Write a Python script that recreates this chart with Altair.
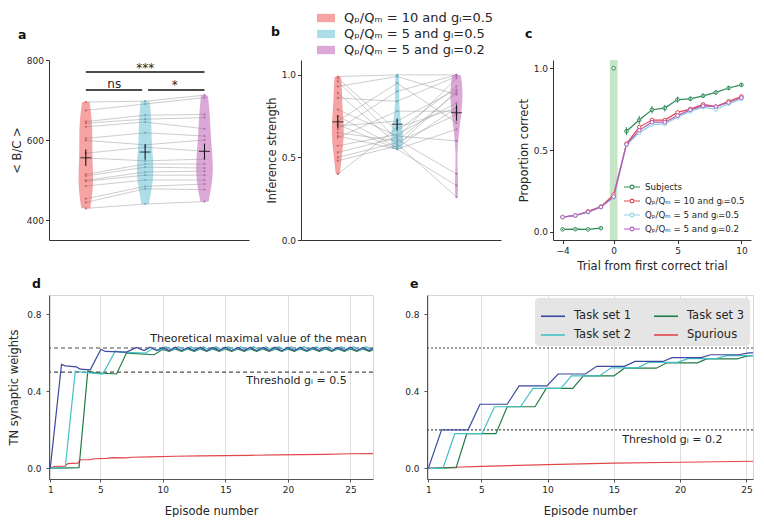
import altair as alt
import pandas as pd

FONT = "DejaVu Sans"
INK = "#262626"
SPINE = "#333333"

# ---------------- conditions (panels a, b, legend) ----------------
COND = ["Qₚ/Qₘ = 10 and gᵢ=0.5", "Qₚ/Qₘ = 5 and gᵢ=0.5", "Qₚ/Qₘ = 5 and gᵢ=0.2"]
VIOLIN_FILL = ["#f5a3a3", "#acdeea", "#dca8d7"]
DOT_COLOR = ["#d35a5a", "#62abc2", "#b368ad"]

# ---------------- panel a : <B/C> per subject ----------------
BC_Q10_G05 = [695, 674, 646, 642, 633, 604, 599, 567, 555, 514, 510, 499, 497, 485, 453, 444, 429]
BC_Q5_G05 = [697, 690, 662, 652, 645, 618, 588, 582, 548, 540, 532, 520, 512, 500, 484, 478, 440]
BC_Q5_G02 = [712, 706, 664, 656, 628, 610, 600, 572, 552, 540, 530, 522, 512, 500, 490, 476, 446]
SIG_BARS = [(0.0, 2.0, 770), (0.0, 0.95, 725), (1.05, 2.0, 725)]
SIG_LABELS = [("***", 1.0, 771), ("ns", 0.48, 731), ("*", 1.5, 727)]

# ---------------- panel b : inference strength per subject ----------------
INF_Q10_G05 = [0.99, 0.98, 0.96, 0.93, 0.89, 0.86, 0.79, 0.75, 0.72, 0.70,
               0.69, 0.67, 0.65, 0.63, 0.62, 0.57, 0.53, 0.50, 0.48, 0.40]
INF_Q5_G05 = [1.00, 0.66, 0.61, 0.99, 0.58, 0.84, 0.63, 0.56, 0.95, 0.55,
              0.72, 0.90, 0.60, 0.55, 0.78, 0.64, 0.62, 0.59, 0.57, 0.68]
INF_Q5_G02 = [1.00, 0.93, 0.40, 0.88, 0.26, 0.99, 0.60, 0.80, 0.71, 0.33,
              0.91, 1.00, 0.89, 0.67, 0.78, 0.83, 0.98, 0.76, 0.90, 0.80]

# ---------------- panel c : proportion correct ----------------
TRIALS = [-4, -3, -2, -1, 0, 1, 2, 3, 4, 5, 6, 7, 8, 9, 10]
SUBJECTS = [0.015, 0.016, 0.015, 0.022, 1.0, 0.615, 0.683, 0.746, 0.756, 0.808, 0.813, 0.831, 0.852, 0.879, 0.898]
SUBJECTS_SEM = [0.004, 0.004, 0.004, 0.005, 0.0, 0.024, 0.026, 0.022, 0.02, 0.018, 0.013, 0.014, 0.013, 0.012, 0.011]
MODEL_Q10_G05 = [0.09, 0.10, 0.125, 0.154, 0.227, 0.538, 0.64, 0.683, 0.683, 0.73, 0.75, 0.779, 0.765, 0.798, 0.827]
MODEL_Q5_G05 = [0.09, 0.10, 0.12, 0.15, 0.21, 0.53, 0.605, 0.655, 0.66, 0.70, 0.735, 0.762, 0.748, 0.783, 0.812]
MODEL_Q5_G02 = [0.09, 0.10, 0.122, 0.152, 0.215, 0.535, 0.62, 0.67, 0.67, 0.71, 0.745, 0.77, 0.765, 0.79, 0.82]
C_SERIES = ["Subjects"] + COND
C_COLORS = ["#2e8b57", "#e0474c", "#8fd1e6", "#b05cbc"]
FIRST_CORRECT_BAND = (-0.3, 0.3)

# ---------------- panel d : TN synaptic weights, g_I = 0.5 ----------------
D_TASK1 = [(1.0, 0.0), (1.9, 0.54), (2.2, 0.532), (3.1, 0.527), (3.4, 0.515), (4.2, 0.512),
           (5.05, 0.618), (5.4, 0.607), (7.1, 0.604), (7.9, 0.628),
           (8.5, 0.612), (9.0, 0.629), (9.5, 0.611), (10.0, 0.628), (10.5, 0.612), (11.0, 0.629),
           (11.5, 0.611), (12.0, 0.628), (12.5, 0.612), (13.0, 0.629), (13.5, 0.611), (14.0, 0.628),
           (14.5, 0.612), (15.0, 0.629), (15.5, 0.611), (16.0, 0.628), (16.5, 0.612), (17.0, 0.629),
           (17.5, 0.611), (18.0, 0.628), (18.5, 0.612), (19.0, 0.629), (19.5, 0.611), (20.0, 0.628),
           (20.5, 0.612), (21.0, 0.629), (21.5, 0.611), (22.0, 0.628), (22.5, 0.612), (23.0, 0.629),
           (23.5, 0.611), (24.0, 0.628), (24.5, 0.612), (25.0, 0.629), (25.5, 0.611), (26.0, 0.628),
           (26.5, 0.612), (26.8, 0.624)]
D_TASK2 = [(1.0, 0.0), (2.2, 0.005), (3.0, 0.505), (3.5, 0.5), (5.2, 0.49), (6.2, 0.61),
           (6.6, 0.603), (8.6, 0.598), (9.2, 0.622),
           (9.75, 0.613), (10.25, 0.632), (10.75, 0.613), (11.25, 0.632), (11.75, 0.613), (12.25, 0.632),
           (12.75, 0.613), (13.25, 0.632), (13.75, 0.613), (14.25, 0.632), (14.75, 0.613), (15.25, 0.632),
           (15.75, 0.613), (16.25, 0.632), (16.75, 0.613), (17.25, 0.632), (17.75, 0.613), (18.25, 0.632),
           (18.75, 0.613), (19.25, 0.632), (19.75, 0.613), (20.25, 0.632), (20.75, 0.613), (21.25, 0.632),
           (21.75, 0.613), (22.25, 0.632), (22.75, 0.613), (23.25, 0.632), (23.75, 0.613), (24.25, 0.632),
           (24.75, 0.613), (25.25, 0.632), (25.75, 0.613), (26.25, 0.632), (26.75, 0.614), (26.8, 0.615)]
D_TASK3 = [(1.0, 0.0), (3.3, 0.004), (4.0, 0.505), (4.5, 0.497), (6.3, 0.49), (7.1, 0.6),
           (7.5, 0.597), (9.3, 0.59), (10.0, 0.618),
           (10.5, 0.607), (11.0, 0.62), (11.5, 0.607), (12.0, 0.62), (12.5, 0.607), (13.0, 0.62),
           (13.5, 0.607), (14.0, 0.62), (14.5, 0.607), (15.0, 0.62), (15.5, 0.607), (16.0, 0.62),
           (16.5, 0.607), (17.0, 0.62), (17.5, 0.607), (18.0, 0.62), (18.5, 0.607), (19.0, 0.62),
           (19.5, 0.607), (20.0, 0.62), (20.5, 0.607), (21.0, 0.62), (21.5, 0.607), (22.0, 0.62),
           (22.5, 0.607), (23.0, 0.62), (23.5, 0.607), (24.0, 0.62), (24.5, 0.607), (25.0, 0.62),
           (25.5, 0.607), (26.0, 0.62), (26.5, 0.607), (26.8, 0.615)]
D_SPURIOUS = [(1.0, 0.0), (1.3, 0.01), (2.2, 0.012), (2.4, 0.025), (3.2, 0.027), (3.4, 0.045),
              (4.2, 0.046), (4.5, 0.05), (5.5, 0.052), (6.0, 0.056), (7.0, 0.055), (7.5, 0.058),
              (9.0, 0.06), (11.0, 0.063), (13.0, 0.065), (15.0, 0.066), (17.0, 0.068), (19.0, 0.07),
              (21.0, 0.071), (23.0, 0.073), (25.0, 0.076), (26.8, 0.077)]
D_DASHED = [0.625, 0.5]
D_NOTES = [("Theoretical maximal value of the mean", 26.3, 0.672), ("Threshold gᵢ = 0.5", 24.7, 0.452)]

# ---------------- panel e : TN synaptic weights, g_I = 0.2 ----------------
E_TASK1 = [(1.0, 0.0), (2.0, 0.20), (4.0, 0.20), (4.9, 0.333), (6.95, 0.333), (7.85, 0.428),
           (9.95, 0.428), (10.8, 0.49), (12.85, 0.49), (13.7, 0.53), (15.8, 0.53), (16.6, 0.555),
           (18.7, 0.555), (19.4, 0.575), (21.6, 0.575), (22.3, 0.59), (24.4, 0.59), (25.2, 0.60), (25.5, 0.60)]
E_TASK2 = [(1.0, 0.0), (2.1, 0.0), (3.0, 0.18), (5.05, 0.18), (6.0, 0.32), (7.95, 0.32),
           (8.9, 0.415), (11.0, 0.415), (11.8, 0.48), (13.9, 0.48), (14.8, 0.522), (16.8, 0.522),
           (17.6, 0.55), (19.8, 0.55), (20.6, 0.57), (22.7, 0.57), (23.5, 0.585), (25.5, 0.585)]
E_TASK3 = [(1.0, 0.0), (3.1, 0.004), (3.9, 0.18), (6.1, 0.18), (6.95, 0.32), (9.05, 0.32),
           (9.9, 0.415), (11.9, 0.415), (12.7, 0.48), (15.0, 0.48), (15.8, 0.52), (18.2, 0.52),
           (19.0, 0.548), (21.3, 0.548), (22.0, 0.568), (24.3, 0.568), (25.0, 0.583), (25.5, 0.585)]
E_SPURIOUS = [(1.0, 0.0), (3.0, 0.006), (5.0, 0.011), (10.0, 0.02), (15.0, 0.027), (20.0, 0.032), (25.5, 0.037)]
E_DASHED = [0.625, 0.2]
E_NOTES = [("Threshold gᵢ = 0.2", 23.2, 0.148)]

TASK_NAMES = ["Task set 1", "Task set 2", "Task set 3", "Spurious"]
TASK_COLORS = ["#3b4a9e", "#45c0c8", "#237a45", "#e2474b"]

RECT_SYMBOL = "M-1,-0.46H1V0.46H-1Z"
LINE_CIRCLE_SYMBOL = "M-1,0H-0.24M0.24,0H1M0.24,0A0.24,0.24,0,1,1,-0.24,0A0.24,0.24,0,1,1,0.24,0"


def letter(t, dx, offset, dy=0):
    return alt.TitleParams(text=t, anchor="start", frame="group", orient="top", dx=dx, dy=dy,
                           offset=offset, fontSize=12.5, fontWeight="bold", color="#111111", font=FONT)


def y_axis(title, values, fmt):
    return alt.Axis(values=values, format=fmt, grid=False, tickSize=3.5, tickColor=SPINE, domainColor=SPINE,
                    labelFontSize=9, labelColor=INK, labelPadding=2, titleFontSize=11.5,
                    titleColor=INK, titlePadding=4, titleFontWeight="normal", title=title)


# ---------------- violin panels ----------------
X_DOMAIN_AB = [-0.62, 2.75]


def paired_df(series):
    rows = []
    for ci, vals in enumerate(series):
        for si, v in enumerate(vals):
            rows.append({"subject": si, "cond": COND[ci], "pos": ci, "value": v})
    return pd.DataFrame(rows)


def violin_panel(df, y_domain, yax, half_width, legend, extra=None, per_violin=False):
    xs = alt.Scale(domain=X_DOMAIN_AB, nice=False, zero=False)
    ys = alt.Scale(domain=y_domain, nice=False, zero=False)
    xax = alt.Axis(title=None, labels=False, ticks=False, grid=False, domainColor=SPINE)
    base = alt.Chart(df)
    fill = alt.Fill("cond:N", scale=alt.Scale(domain=COND, range=VIOLIN_FILL), legend=legend)
    dens = (
        base.transform_joinaggregate(vmin="min(value)", vmax="max(value)", groupby=["cond"])
        .transform_density("value", groupby=["cond", "pos", "vmin", "vmax"], extent=y_domain,
                           steps=600, as_=["value", "density"])
        .transform_filter("datum.value >= datum.vmin && datum.value <= datum.vmax")
    )
    if per_violin:
        dens = dens.transform_joinaggregate(dmax="max(density)", groupby=["cond"])
    else:
        dens = dens.transform_joinaggregate(dmax="max(density)")
    violins = (
        dens.transform_calculate(xl=f"datum.pos - {half_width} * datum.density / datum.dmax",
                                 xr=f"datum.pos + {half_width} * datum.density / datum.dmax")
        .mark_area(orient="horizontal", opacity=1)
        .encode(y=alt.Y("value:Q", scale=ys, axis=yax), x=alt.X("xl:Q", scale=xs, axis=xax),
                x2="xr:Q", fill=fill, detail="cond:N")
    )
    lines = base.mark_line(color="#8a8a8a", strokeWidth=0.5, opacity=0.85).encode(
        x=alt.X("pos:Q", scale=xs, axis=xax), y=alt.Y("value:Q", scale=ys, axis=yax), detail="subject:N")
    dots = base.mark_circle(size=5, opacity=0.9).encode(
        x=alt.X("pos:Q", scale=xs, axis=xax), y=alt.Y("value:Q", scale=ys, axis=yax),
        color=alt.Color("cond:N", scale=alt.Scale(domain=COND, range=DOT_COLOR), legend=None))
    stats = base.transform_aggregate(m="mean(value)", s="stderr(value)", groupby=["pos"]).transform_calculate(
        lo="datum.m - datum.s", hi="datum.m + datum.s")
    err = stats.mark_rule(color="#1a1a1a", strokeWidth=1.1).encode(
        x=alt.X("pos:Q", scale=xs, axis=xax), y=alt.Y("lo:Q", scale=ys, axis=yax), y2="hi:Q")
    mtick = stats.mark_tick(orient="horizontal", size=11, thickness=1.2, color="#1a1a1a").encode(
        x=alt.X("pos:Q", scale=xs, axis=xax), y=alt.Y("m:Q", scale=ys, axis=yax))
    layers = [violins, lines, dots, err, mtick]
    if extra is not None:
        sig_bars, sig_labels = extra
        bdf = pd.DataFrame(sig_bars, columns=["x1", "x2", "y"])
        tdf = pd.DataFrame(sig_labels, columns=["label", "x", "y"])
        layers.append(alt.Chart(bdf).mark_rule(color="#111111", strokeWidth=1.3).encode(
            x=alt.X("x1:Q", scale=xs, axis=xax), x2="x2:Q", y=alt.Y("y:Q", scale=ys, axis=yax)))
        layers.append(alt.Chart(tdf).mark_text(fontSize=12, baseline="alphabetic", color=INK, font=FONT).encode(
            x=alt.X("x:Q", scale=xs, axis=xax), y=alt.Y("y:Q", scale=ys, axis=yax), text="label:N"))
    return alt.layer(*layers)


df_a = paired_df([BC_Q10_G05, BC_Q5_G05, BC_Q5_G02])
df_b = paired_df([INF_Q10_G05, INF_Q5_G05, INF_Q5_G02])

TOP_H = 180
panel_a = violin_panel(df_a, [350, 800], y_axis("< B/C >", [400, 600, 800], "d"), 0.14, None,
                       extra=(SIG_BARS, SIG_LABELS)).properties(
    width=200, height=TOP_H, title=letter("a", -31, 14.5))

legend_b = alt.Legend(orient="none", legendX=16, legendY=-51, title=None, direction="vertical",
                      symbolType=RECT_SYMBOL, symbolSize=324, symbolStrokeWidth=0, symbolOpacity=1,
                      labelFontSize=13, labelColor=INK, labelFont=FONT, rowPadding=-1, labelOffset=9,
                      padding=0)
panel_b = violin_panel(df_b, [0, 1.09], y_axis("Inference strength", [0, 0.5, 1.0], ".1f"), 0.1,
                       legend_b, per_violin=True).properties(
    width=200, height=TOP_H, title=letter("b", -30, 14.5, dy=44))

# ---------------- panel c ----------------
c_rows = []
for name, vals in zip(C_SERIES, [SUBJECTS, MODEL_Q10_G05, MODEL_Q5_G05, MODEL_Q5_G02]):
    for t, v in zip(TRIALS, vals):
        if name == "Subjects":
            seg = "pre" if t < 0 else ("zero" if t == 0 else "post")
        else:
            seg = "all"
        c_rows.append({"series": name, "trial": t, "p": v, "seg": seg})
df_c = pd.DataFrame(c_rows)
df_c_err = pd.DataFrame({"trial": TRIALS, "p": SUBJECTS, "sem": SUBJECTS_SEM})
df_c_err = df_c_err[df_c_err["sem"] > 0]
C_Y_DOMAIN = [-0.05, 1.05]
df_band = pd.DataFrame([{"x1": FIRST_CORRECT_BAND[0], "x2": FIRST_CORRECT_BAND[1],
                         "y1": C_Y_DOMAIN[0], "y2": C_Y_DOMAIN[1]}])

cxs = alt.Scale(domain=[-4.75, 10.75], nice=False, zero=False)
cys = alt.Scale(domain=C_Y_DOMAIN, nice=False, zero=False)
cxax = alt.Axis(values=[-4, 0, 5, 10], title="Trial from first correct trial", grid=False, tickSize=3.5,
                tickColor=SPINE, domainColor=SPINE, labelFontSize=9, labelColor=INK, labelPadding=3,
                titleFontSize=11.5, titleColor=INK, titlePadding=5, titleFontWeight="normal")
cyax = y_axis("Proportion correct", [0, 0.5, 1.0], ".1f")

band = alt.Chart(df_band).mark_rect(color="#c6e5c6").encode(
    x=alt.X("x1:Q", scale=cxs, axis=cxax), x2="x2:Q", y=alt.Y("y1:Q", scale=cys, axis=cyax), y2="y2:Q")
legend_c = alt.Legend(orient="bottom-right", offset=4, title=None, symbolType=LINE_CIRCLE_SYMBOL,
                      symbolSize=256, symbolStrokeWidth=1.1, labelFontSize=8.7, labelColor=INK,
                      rowPadding=-3, labelOffset=4, padding=2, symbolFillColor="white")
c_lines = alt.Chart(df_c).mark_line(strokeWidth=1.2, point=alt.OverlayMarkDef(
    filled=False, fill="white", size=13, strokeWidth=1)).encode(
    x=alt.X("trial:Q", scale=cxs, axis=cxax), y=alt.Y("p:Q", scale=cys, axis=cyax),
    color=alt.Color("series:N", scale=alt.Scale(domain=C_SERIES, range=C_COLORS), legend=legend_c),
    detail="seg:N")
c_err = alt.Chart(df_c_err).transform_calculate(lo="datum.p - datum.sem", hi="datum.p + datum.sem").mark_rule(
    color=C_COLORS[0], strokeWidth=1).encode(
    x=alt.X("trial:Q", scale=cxs, axis=cxax), y=alt.Y("lo:Q", scale=cys, axis=cyax), y2="hi:Q")
panel_c = alt.layer(band, c_lines, c_err).properties(width=198, height=TOP_H, title=letter("c", -28, 19.5))


# ---------------- panels d, e ----------------
def weights_df(series_map):
    rows = []
    for name, pts in series_map.items():
        for i, (ep, w) in enumerate(pts):
            rows.append({"series": name, "ep": ep, "w": w, "i": i})
    return pd.DataFrame(rows)


BOTTOM_H = 184


def weights_panel(series_map, x_domain, dashed, dash, notes, y_title, legend, width):
    xs = alt.Scale(domain=x_domain, nice=False, zero=False)
    ys = alt.Scale(domain=[-0.055, 0.9], nice=False, zero=False)
    xax = alt.Axis(values=[1, 5, 10, 15, 20, 25], title="Episode number", grid=True, gridColor="#dddddd",
                   tickSize=3, tickColor="#555555", domainColor="#555555", labelFontSize=9, labelColor=INK,
                   labelPadding=3, titleFontSize=11.5, titleColor=INK, titlePadding=11,
                   titleFontWeight="normal")
    yax = alt.Axis(values=[0, 0.4, 0.8], format=".1f", grid=False, tickSize=3, tickColor="#555555",
                   domainColor="#555555", labelFontSize=9, labelColor=INK, labelPadding=5,
                   titleFontSize=11.5, titleColor=INK, titlePadding=7, titleFontWeight="normal",
                   title=y_title if y_title else "")
    df = weights_df(series_map)
    lines = alt.Chart(df).mark_line(strokeWidth=1.2).encode(
        x=alt.X("ep:Q", scale=xs, axis=xax), y=alt.Y("w:Q", scale=ys, axis=yax),
        color=alt.Color("series:N", scale=alt.Scale(domain=TASK_NAMES, range=TASK_COLORS), legend=legend),
        order="i:Q")
    rules = alt.Chart(pd.DataFrame({"y": dashed})).mark_rule(
        strokeDash=dash, color="#4d4d4d", strokeWidth=1.2).encode(y=alt.Y("y:Q", scale=ys, axis=yax))
    txt = alt.Chart(pd.DataFrame(notes, columns=["label", "x", "y"])).mark_text(
        align="right", baseline="middle", fontSize=11, color=INK, font=FONT).encode(
        x=alt.X("x:Q", scale=xs, axis=xax), y=alt.Y("y:Q", scale=ys, axis=yax), text="label:N")
    return alt.layer(rules, lines, txt).properties(
        width=width, height=BOTTOM_H, view=alt.ViewBackground(stroke="#d6d6d6", strokeWidth=1))


legend_e = alt.Legend(orient="top-right", columns=2, offset=3, title=None, fillColor="#e5e5e5",
                      cornerRadius=4, padding=5, symbolType="stroke", symbolSize=576, symbolStrokeWidth=1.6,
                      labelFontSize=11.5, labelColor=INK, columnPadding=18, rowPadding=-7, labelOffset=8)

panel_d = weights_panel({"Spurious": D_SPURIOUS, "Task set 3": D_TASK3, "Task set 2": D_TASK2,
                         "Task set 1": D_TASK1}, [0.9, 26.8], D_DASHED, [4, 3], D_NOTES,
                        "TN synaptic weights", None, 324).properties(title=letter("d", -17, 5))
panel_e = weights_panel({"Spurious": E_SPURIOUS, "Task set 3": E_TASK3, "Task set 2": E_TASK2,
                         "Task set 1": E_TASK1}, [0.9, 25.5], E_DASHED, [2, 2], E_NOTES,
                        None, legend_e, 326).properties(title=letter("e", -17, 5))

top = alt.hconcat(panel_a, panel_b, panel_c, spacing=52, bounds="flush").resolve_scale(
    color="independent", fill="independent")
bottom = alt.hconcat(panel_d, panel_e, spacing=54, bounds="flush").resolve_scale(
    color="independent", fill="independent")

chart = alt.vconcat(top, bottom, spacing=4).resolve_scale(
    color="independent", fill="independent").properties(padding=0).configure(
    font=FONT).configure_view(stroke="transparent").configure_axis(
    labelFont=FONT, titleFont=FONT).configure_legend(labelFont=FONT).configure_text(font=FONT)

chart.save("out.html", embed_options={"renderer": "svg", "actions": False})
